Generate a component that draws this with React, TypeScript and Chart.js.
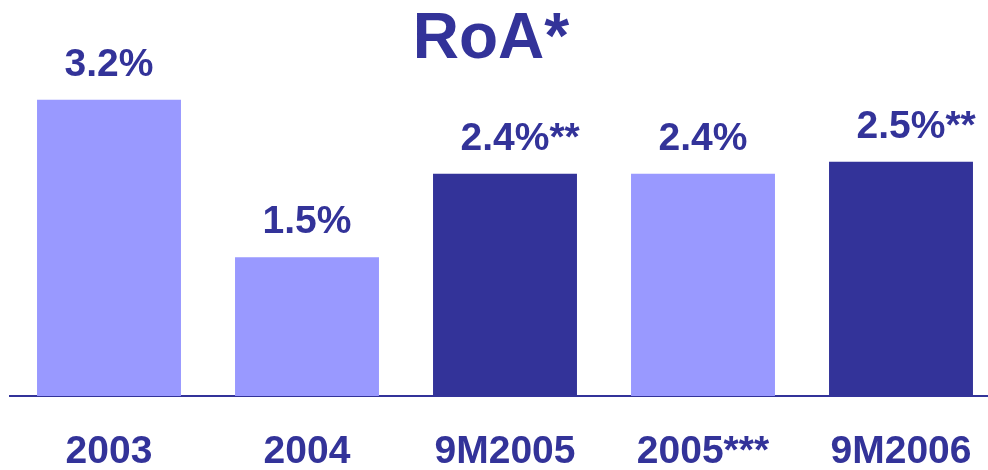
import React, { useEffect, useRef } from "react";
import { Chart, registerables } from "chart.js";

Chart.register(...registerables);

const categories = ["2003", "2004", "9M2005", "2005***", "9M2006"];
const values = [3.2, 1.5, 2.4, 2.4, 2.53];
const valueLabels = ["3.2%", "1.5%", "2.4%", "2.4%", "2.5%"];
const labelNotes = ["", "", "**", "", "**"];
const barColors = ["#9999FF", "#9999FF", "#333399", "#9999FF", "#333399"];
const titleText = "RoA*";

const TEXT_COLOR = "#333399";
const FONT = '"Liberation Sans", Arial, sans-serif';
const VIEW_W = 988;
const VIEW_H = 470;
const CANVAS_W = 1010;

const titlePlugin = {
  id: "customTitle",
  afterDraw(chart: any) {
    const ctx = chart.ctx;
    ctx.save();
    ctx.fillStyle = TEXT_COLOR;
    ctx.font = `bold 64px ${FONT}`;
    ctx.textAlign = "center";
    ctx.textBaseline = "alphabetic";
    ctx.fillText(titleText, VIEW_W / 2 - 3, 58);
    ctx.restore();
  },
};

const valueLabelPlugin = {
  id: "valueLabels",
  afterDatasetsDraw(chart: any) {
    const ctx = chart.ctx;
    const meta = chart.getDatasetMeta(0);
    ctx.save();
    ctx.fillStyle = TEXT_COLOR;
    ctx.font = `bold 39px ${FONT}`;
    ctx.textBaseline = "alphabetic";
    meta.data.forEach((bar: any, i: number) => {
      const main = valueLabels[i];
      const note = labelNotes[i];
      const w = ctx.measureText(main).width;
      const y = bar.y - 24;
      ctx.textAlign = "center";
      ctx.fillText(main, bar.x, y);
      if (note) {
        ctx.textAlign = "left";
        ctx.fillText(note, bar.x + w / 2, y);
      }
    });
    ctx.restore();
  },
};

export default function App() {
  const ref = useRef<HTMLCanvasElement>(null);

  useEffect(() => {
    if (!ref.current) return;
    const chart = new Chart(ref.current, {
      type: "bar",
      data: {
        labels: categories,
        datasets: [
          {
            data: values,
            backgroundColor: barColors,
            borderWidth: 0,
            barPercentage: 0.727,
            categoryPercentage: 1,
          },
        ],
      },
      options: {
        responsive: false,
        animation: false,
        layout: { padding: { left: 10, right: CANVAS_W - 1000, top: 72, bottom: 0 } },
        plugins: {
          legend: { display: false },
          tooltip: { enabled: false },
          title: { display: false },
        },
        scales: {
          y: { display: false, min: 0, max: 3.5 },
          x: {
            grid: { display: false, drawTicks: false },
            border: { display: true, color: "#333399", width: 2 },
            ticks: {
              color: TEXT_COLOR,
              padding: 33,
              font: { family: FONT, weight: "bold", size: 39 },
            },
            afterFit: (scale: any) => {
              scale.height = 74;
            },
          },
        },
      },
      plugins: [titlePlugin, valueLabelPlugin],
    } as any);
    return () => chart.destroy();
  }, []);

  return (
    <div
      style={{
        position: "absolute",
        left: 0,
        top: 0,
        width: VIEW_W,
        height: VIEW_H,
        overflow: "hidden",
        background: "#ffffff",
      }}
    >
      <canvas
        ref={ref}
        width={CANVAS_W}
        height={VIEW_H}
        style={{ display: "block", width: CANVAS_W, height: VIEW_H }}
      />
    </div>
  );
}
